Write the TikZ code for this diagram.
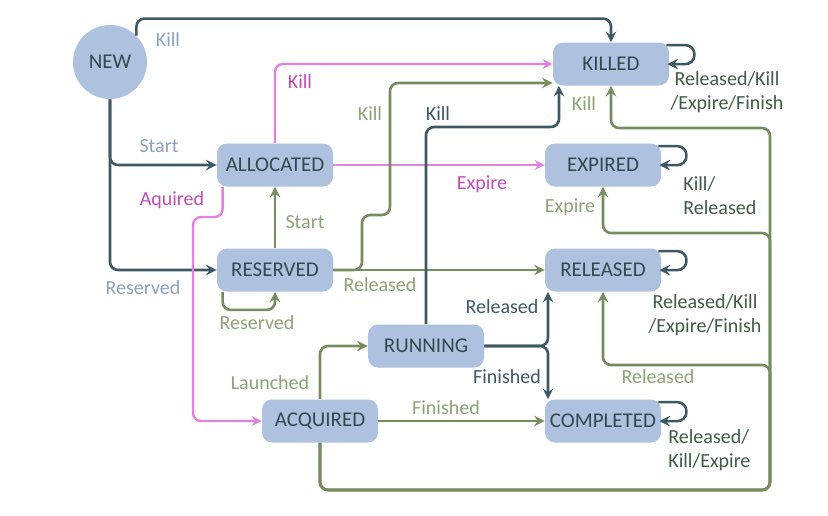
\documentclass[tikz,border=0pt]{standalone}
\usepackage{fontspec}
\setmainfont{Carlito}
\definecolor{boxfill}{RGB}{174,194,223}
\definecolor{boxtext}{RGB}{52,72,80}
\definecolor{dkline}{RGB}{62,88,100}
\definecolor{grline}{RGB}{118,140,95}
\definecolor{pkline}{RGB}{226,130,222}
\definecolor{lblue}{RGB}{140,162,190}
\definecolor{lmag}{RGB}{196,74,184}
\definecolor{lgreen}{RGB}{140,164,116}
\definecolor{dgreen}{RGB}{62,92,70}
\tikzset{
	state/.style={rectangle,rounded corners=5pt,fill=boxfill,text=boxtext,
		minimum width=58pt,minimum height=21.5pt,inner sep=0pt,font=\fontsize{10.5}{12}\selectfont},
	dk/.style={draw=dkline,line width=1.3pt,rounded corners=4pt,-stealth},
	gr/.style={draw=grline,line width=1.3pt,rounded corners=4pt,-stealth},
	pk/.style={draw=pkline,line width=1.2pt,rounded corners=4pt,-stealth},
	lbl/.style={inner sep=0pt,font=\fontsize{10}{12}\selectfont},
}
\begin{document}
\begin{tikzpicture}[x=0.5pt,y=-0.5pt]
	\useasboundingbox[fill=white] (0,0) rectangle (828,515);
	% states
	\node[circle,fill=boxfill,text=boxtext,minimum size=37pt,inner sep=0pt,font=\fontsize{10.5}{12}\selectfont] (new) at (110,62) {NEW};
	\node[state] (killed) at (611,64) {KILLED};
	\node[state] (expired) at (603,165) {EXPIRED};
	\node[state] (allocated) at (275,165) {ALLOCATED};
	\node[state] (reserved) at (275,270) {RESERVED};
	\node[state] (released) at (603,270) {RELEASED};
	\node[state] (running) at (426,346) {RUNNING};
	\node[state] (acquired) at (320,421) {ACQUIRED};
	\node[state] (completed) at (603,421) {COMPLETED};
	
	% corners of the routed lines
	\coordinate (pkturn) at (193,217);
	\coordinate (grk1) at (362,215);
	\coordinate (grk2) at (390,83);
	\coordinate (dkk) at (559,127);
	\coordinate (rj) at (548,346);
	\coordinate (trk) at (770,490);
	\coordinate (brR) at (770,365);
	\coordinate (brE) at (770,233);
	\coordinate (brK) at (770,128);
	
	% from NEW
	\draw[dk] (new.45) -- ++(0,-17) -| (killed.north);
	\draw[dk] (new.south) |- (allocated.west);
	\draw[dk] (new.south) |- (reserved.west);
	
	% from ALLOCATED
	\draw[pk] (allocated.north) |- (killed.west);
	\draw[pk] (allocated) -- (expired);
	\draw[pk] ([xshift=3pt]allocated.south west) |- (pkturn) |- (acquired.west);
	
	% from RESERVED
	\draw[gr] (reserved) -- (allocated);
	\draw[gr] ([xshift=3pt]reserved.south west) -- ++(0,18) -| (reserved.south);
	\draw[gr] (reserved) -- (released);
	\draw[gr] (reserved.east) -| (grk1) -| (grk2) -- (grk2 -| killed.west);
	
	% from RUNNING
	\draw[dk] (running.north) |- (dkk) -- (dkk |- killed.south);
	\draw[dk] (running.east) -| (rj |- released.south);
	\draw[dk] (running.east) -| (rj |- completed.north);
	
	% from ACQUIRED
	\draw[gr] (acquired.north) |- (running.west);
	\draw[gr] (acquired) -- (completed);
	\draw[gr] (acquired.south) |- (trk) -- (brR) -| (released.south);
	\draw[gr] (acquired.south) |- (trk) -- (brE) -| (expired.south);
	\draw[gr] (acquired.south) |- (trk) -- (brK) -| (killed.south);
	
	% self loops
	\foreach \s in {killed,expired,released,completed}
		\draw[dk,rounded corners=4.5pt] ([shift={(-1.5pt,-1.5pt)}]\s.north east) -- ++(28,0) -- ++(0,19) -- ++(-27,0);
	
	% labels
	\node[lbl,text=lblue] (l1) at (168,40) {Kill};
	\node[lbl,text=lblue] (l2) at (159,146) {Start};
	\node[lbl,text=lblue] (l3) at (143,288) {Reserved};
	\node[lbl,text=lmag] (l4) at (172,200) {Aquired};
	\node[lbl,text=lmag] (l5) at (300,82) {Kill};
	\node[lbl,text=lmag] (l6) at (482,184) {Expire};
	\node[lbl,text=lgreen] (l7) at (370,114) {Kill};
	\node[lbl,text=dkline] (l8) at (438,114) {Kill};
	\node[lbl,text=lgreen] (l9) at (584,104) {Kill};
	\node[lbl,text=lgreen] (l10) at (305,222) {Start};
	\node[lbl,text=lgreen] (l11) at (257,323) {Reserved};
	\node[lbl,text=lgreen] (l12) at (380,285) {Released};
	\node[lbl,text=lgreen] (l13) at (570,207) {Expire};
	\node[lbl,text=dkline] (l14) at (502,307) {Released};
	\node[lbl,text=dkline] (l15) at (507,377) {Finished};
	\node[lbl,text=lgreen] (l16) at (658,377) {Released};
	\node[lbl,text=lgreen] (l17) at (270,383) {Launched};
	\node[lbl,text=lgreen] (l18) at (446,408) {Finished};
	\node[lbl,text=dgreen,align=center] (l19) at (727,92) {Released/Kill\\/Expire/Finish};
	\node[lbl,text=dgreen,align=left,anchor=west] (l20) at (683,196) {Kill/\\Released};
	\node[lbl,text=dgreen,align=center] (l21) at (705,315) {Released/Kill\\/Expire/Finish};
	\node[lbl,text=dgreen,align=left,anchor=west] (l22) at (668,450) {Released/\\Kill/Expire};
\end{tikzpicture}
\end{document}
